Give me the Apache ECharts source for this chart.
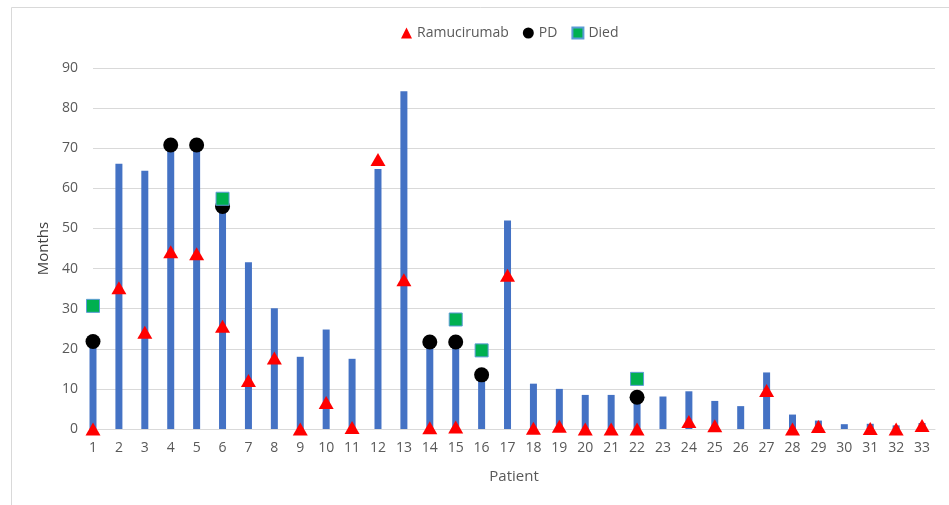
<!DOCTYPE html>
<html>
<head>
<meta charset="utf-8">
<script src="https://cdn.jsdelivr.net/npm/echarts@6/dist/echarts.min.js"></script>
<style>html,body{margin:0;padding:0;background:#fff;}#c{width:949px;height:505px;}</style>
</head>
<body>
<div id="c"></div>
<script>
const patients = [1,2,3,4,5,6,7,8,9,10,11,12,13,14,15,16,17,18,19,20,21,22,23,24,25,26,27,28,29,30,31,32,33];
const months = [21.5,66.1,64.4,70.5,70.5,56,41.6,30.1,18,24.8,17.5,64.8,84.2,21.5,21.5,13.5,52,11.3,10,8.5,8.5,8,8.1,9.4,7,5.7,14.1,3.6,2.1,1.2,1.3,0.9,1.5];
const ramucirumab = [0,35.2,24.1,44.2,43.7,25.6,12.1,17.7,0,6.6,0.4,67.2,37.2,0.3,0.5,null,38.3,0.2,0.7,0,0,0,null,1.9,0.8,null,9.6,0,0.6,null,0.1,0,0.9];
const pd = [21.8,null,null,70.8,70.8,55.5,null,null,null,null,null,null,null,21.7,21.7,13.5,null,null,null,null,null,7.9,null,null,null,null,null,null,null,null,null,null,null];
const died = [30.7,null,null,null,null,57.4,null,null,null,null,null,null,null,null,27.3,19.6,null,null,null,null,null,12.5,null,null,null,null,null,null,null,null,null,null,null];

const pairs = arr => patients.map((p,i) => arr[i] == null ? null : [p, arr[i]]).filter(d => d);

const FONT = '"Open Sans", sans-serif';
const chart = echarts.init(document.getElementById('c'), null, {renderer:'canvas'});
chart.setOption({
  animation:false,
  backgroundColor:'#fff',
  graphic:[{type:'rect', shape:{x:11.5,y:7.5,width:1000,height:1000}, style:{fill:null, stroke:'#d9d9d9', lineWidth:1}, silent:true, z:-10}],
  legend:{
    top:21, left:396, itemGap:14, itemWidth:11, itemHeight:11,
    textStyle:{fontFamily:FONT, fontSize:14, color:'#595959'},
    data:[{name:'Ramucirumab', icon:'triangle'},{name:'PD', icon:'circle'},{name:'Died', icon:'rect'}]
  },
  grid:{left:93, right:14, top:68, bottom:76},
  xAxis:{
    type:'value', min:1, max:33.5, interval:1,
    name:'Patient', nameLocation:'middle', nameGap:40,
    nameTextStyle:{fontFamily:FONT, fontSize:15, color:'#595959'},
    axisLine:{show:true, onZero:false, lineStyle:{color:'#d9d9d9', width:1}},
    axisTick:{show:false},
    splitLine:{show:false},
    axisLabel:{fontFamily:FONT, fontSize:14, color:'#595959', margin:12, showMaxLabel:false, showMinLabel:true}
  },
  yAxis:{
    type:'value', min:0, max:90, interval:10,
    name:'Months', nameLocation:'middle', nameGap:38,
    nameTextStyle:{fontFamily:FONT, fontSize:15, color:'#404040'},
    axisLine:{show:false}, axisTick:{show:false},
    splitLine:{lineStyle:{color:'#d9d9d9', width:1}},
    axisLabel:{fontFamily:FONT, fontSize:14, color:'#595959', margin:15}
  },
  series:[
    {type:'bar', name:'Months', data:pairs(months), barWidth:7, clip:false, itemStyle:{color:'#4472C4'}, z:1},
    {type:'scatter', name:'Ramucirumab', data:pairs(ramucirumab), symbol:'triangle', symbolSize:[15,13], clip:false, itemStyle:{color:'#FF0000', opacity:1}, z:3},
    {type:'scatter', name:'PD', data:pairs(pd), symbol:'circle', symbolSize:15, clip:false, itemStyle:{color:'#000000', opacity:1}, z:4},
    {type:'scatter', name:'Died', data:pairs(died), symbol:'rect', symbolSize:13, clip:false, itemStyle:{color:'#00B050', borderColor:'#5B9BD5', borderWidth:1, opacity:1}, z:5}
  ]
});
</script>
</body>
</html>
